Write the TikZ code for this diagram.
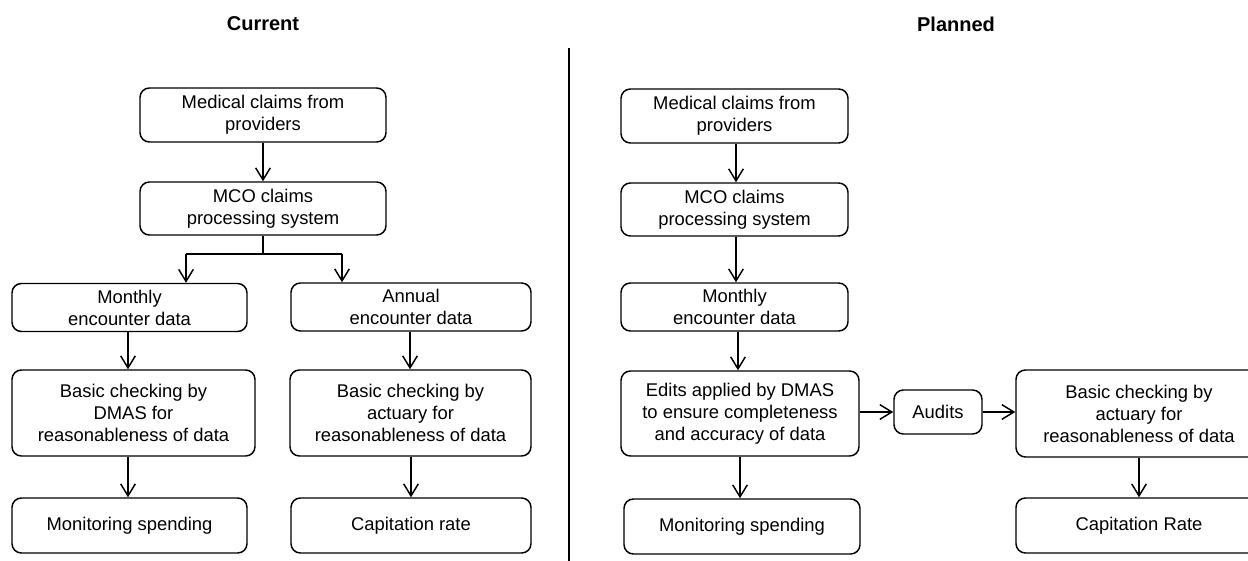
\documentclass[tikz,border=0pt]{standalone}
\usepackage{fontspec}
\setmainfont{Liberation Sans}
\usetikzlibrary{arrows.meta}
\begin{document}
\begin{tikzpicture}[x=0.75pt,y=-0.75pt,
 box/.style={draw, line width=1.1pt, rounded corners=7pt, align=center, font=\fontsize{13.8}{16.5}\selectfont, inner sep=0pt},
 arr/.style={line width=1.1pt, -{Straight Barb[length=9pt,width=11pt,line width=1.1pt]}},
 plain/.style={line width=1.1pt},
 title/.style={font=\fontsize{15}{18}\selectfont\bfseries}]
\clip (0,0) rectangle (1248,560);
\fill[white] (0,0) rectangle (1248,560);
% titles
\node[title] (t1) at (263,24) {Current};
\node[title] (t2) at (956,24) {Planned};
\coordinate (d1) at (569,48);
\coordinate (d2) at (569,562);
\draw[line width=1.1pt] (d1) -- (d2);
% left
\node[box, minimum width=184.5pt, minimum height=40.5pt] (a1) at (263,115) {Medical claims from\\providers};
\node[box, minimum width=184.5pt, minimum height=39.75pt] (a2) at (263,208.5) {MCO claims\\processing system};
\node[box, minimum width=176.25pt, minimum height=36pt] (a3) at (129.5,307.5) {Monthly\\encounter data};
\node[box, minimum width=180pt, minimum height=36pt] (a4) at (411,307) {Annual\\encounter data};
\node[box, minimum width=182.25pt, minimum height=64.5pt] (a5) at (133.5,413) {Basic checking by\\DMAS for\\reasonableness of data};
\node[box, minimum width=180.75pt, minimum height=64.5pt] (a6) at (410.5,413) {Basic checking by\\actuary for\\reasonableness of data};
\node[box, minimum width=176.25pt, minimum height=41.25pt] (a7) at (129.5,525.5) {Monitoring spending};
\node[box, minimum width=180pt, minimum height=41.25pt] (a8) at (411,525.5) {Capitation rate};
\draw[arr] (a1.south) -- (a2.north);
\coordinate (bm) at (263,254);
\coordinate (bl) at (186,254);
\coordinate (bR) at (342,254);
\draw[plain] (a2.south) -- (bm);
\draw[plain] (bl) -- (bR);
\draw[arr] (bl) -- (bl |- a3.north);
\draw[arr] (bR) -- (bR |- a4.north);
\draw[arr] (a3.south -| 128,0) -- (a5.north -| 128,0);
\draw[arr] (a4.south -| 410,0) -- (a6.north -| 410,0);
\draw[arr] (a5.south -| 128,0) -- (a7.north -| 128,0);
\draw[arr] (a6.south -| 411,0) -- (a8.north -| 411,0);
% right
\node[box, minimum width=170.25pt, minimum height=40.5pt] (b1) at (734.5,116) {Medical claims from\\providers};
\node[box, minimum width=170.25pt, minimum height=39.75pt] (b2) at (734.5,209.5) {MCO claims\\processing system};
\node[box, minimum width=170.25pt, minimum height=36pt] (b3) at (734.5,307) {Monthly\\encounter data};
\node[box, minimum width=178.5pt, minimum height=63.75pt] (b4) at (740,413.5) {Edits applied by DMAS\\to ensure completeness\\and accuracy of data};
\node[box, minimum width=66pt, minimum height=33pt] (b5) at (938,412) {Audits};
\node[box, minimum width=184.5pt, minimum height=65.25pt] (b6) at (1139,413.5) {Basic checking by\\actuary for\\reasonableness of data};
\node[box, minimum width=177pt, minimum height=41.25pt] (b7) at (742,526.5) {Monitoring spending};
\node[box, minimum width=184.5pt, minimum height=41.25pt] (b8) at (1139,525.5) {Capitation Rate};
\draw[arr] (b1.south -| 736,0) -- (b2.north -| 736,0);
\draw[arr] (b2.south -| 736,0) -- (b3.north -| 736,0);
\draw[arr] (b3.south -| 738,0) -- (b4.north -| 738,0);
\draw[arr] (b4.south) -- (b7.north -| b4.south);
\draw[arr] (b4.east |- b5.west) -- (b5.west);
\draw[arr] (b5.east) -- (b6.west |- b5.east);
\draw[arr] (b6.south) -- (b8.north);
\end{tikzpicture}
\end{document}
